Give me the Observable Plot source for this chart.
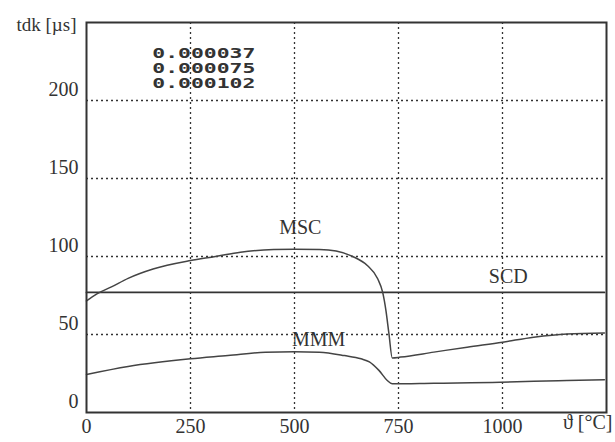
<!DOCTYPE html>
<html><head><meta charset="utf-8">
<script src="https://cdn.jsdelivr.net/npm/d3@7"></script>
<script src="https://cdn.jsdelivr.net/npm/@observablehq/plot@0.6"></script>
<style>body{margin:0;background:#fff}</style>
</head><body><div id="chart"></div>
<script>
// ---- data ----
const xTicks = [0, 250, 500, 750, 1000];
const yTicks = [0, 50, 100, 150, 200];

const mscT = [0, 25, 60, 100, 160, 250, 310, 370, 450, 500, 560, 600, 640, 675, 700, 712, 720, 727, 735, 755, 835, 915, 1000, 1075, 1155, 1245];
const mscV = [71.5, 76, 80.5, 86, 92, 97.4, 100, 102.8, 104.5, 104.7, 104.5, 103.5, 100, 94.2, 85.7, 77, 65, 50.5, 35, 35.5, 38.7, 41.9, 45.1, 48.3, 50.4, 51];

const mmmT = [0, 100, 250, 340, 430, 500, 560, 620, 660, 680, 703, 723, 735, 835, 995, 1075, 1155, 1245];
const mmmV = [24.4, 29.5, 34.4, 36.5, 38.7, 39, 38.7, 36.5, 34.4, 32.5, 27, 20.5, 18.4, 18.8, 19.4, 20.1, 20.5, 21];

const scdT = [0, 1245];
const scdV = [77, 77];

const seriesNames = ["MSC", "MMM", "SCD"];
const labelT = [514, 558, 1014];
const labelV = [118.8, 46.8, 87.2];

const noteLines = ["0.000037", "0.000075", "0.000102"];
const noteT = [282, 282, 282];
const noteV = [230.2, 220.6, 211];

const yTitle = "tdk [µs]";
const xTitle = "ϑ [°C]";

// ---- tables ----
const toRows = (T, V) => T.map((t, i) => ({t, v: V[i]}));
const msc = toRows(mscT, mscV);
const mmm = toRows(mmmT, mmmV);
const scd = toRows(scdT, scdV);
const labels = seriesNames.map((s, i) => ({s, t: labelT[i], v: labelV[i]}));
const notes = noteLines.map((s, i) => ({s, t: noteT[i], v: noteV[i]}));

const ink = "#333";
const serif = "Liberation Serif, Times New Roman, serif";
const gridStyle = {stroke: ink, strokeOpacity: 1, strokeDasharray: "2,3", strokeWidth: 1.3};

const chart = Plot.plot({
  width: 615, height: 442,
  marginLeft: 86, marginRight: 9, marginTop: 22, marginBottom: 30,
  style: {fontFamily: serif, fontSize: "20px", color: ink, background: "#fff"},
  x: {domain: [0, 1250]},
  y: {domain: [0, 250]},
  marks: [
    Plot.gridX(xTicks.slice(1), gridStyle),
    Plot.gridY(yTicks.slice(1), gridStyle),
    Plot.line(scd, {x: "t", y: "v", stroke: ink, strokeWidth: 1.8}),
    Plot.line(msc, {x: "t", y: "v", stroke: "#444", strokeWidth: 1.5, curve: "monotone-x"}),
    Plot.line(mmm, {x: "t", y: "v", stroke: "#444", strokeWidth: 1.5, curve: "monotone-x"}),
    Plot.frame({stroke: ink, strokeWidth: 2}),
    Plot.axisX(xTicks, {tickSize: 0, tickPadding: 6, label: null, tickFormat: d => String(d), fontSize: 20, fontFamily: serif, fill: ink}),
    Plot.axisY(yTicks, {tickSize: 0, tickPadding: 8, dy: -11, label: null, tickFormat: d => String(d), fontSize: 20, fontFamily: serif, fill: ink}),
    Plot.text(labels, {x: "t", y: "v", text: "s", fontSize: 20, fontFamily: serif, fill: ink}),
    Plot.text(notes, {x: "t", y: "v", text: "s", fontSize: 14, fontWeight: "bold", fontFamily: "DejaVu Sans Mono, monospace", fill: ink, className: "note"}),
    Plot.text([yTitle], {frameAnchor: "top-left", text: d => d, textAnchor: "end", dx: -10, dy: -5, fontSize: 19, fontFamily: serif, fill: ink}),
    Plot.text([xTitle], {frameAnchor: "bottom-right", text: d => d, textAnchor: "end", dx: 6, dy: 16, fontSize: 20, fontFamily: serif, fill: ink})
  ]
});
document.getElementById("chart").appendChild(chart);
d3.select(chart).selectAll(".note text").attr("textLength", 103).attr("lengthAdjust", "spacingAndGlyphs");
</script>
</body></html>
